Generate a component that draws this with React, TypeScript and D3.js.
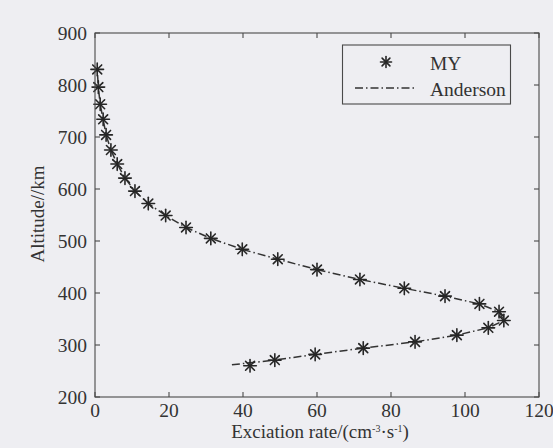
import React from "react";
import * as d3 from "d3";

// Excitation rate profile: MY results (stars) and Anderson profile (dash-dot)
const rateMY = [41.9, 48.6, 59.5, 72.5, 86.5, 97.8, 106.3, 110.5, 109.2, 103.9, 94.6, 83.6, 71.6, 60.0, 49.4, 39.8, 31.3, 24.6, 19.1, 14.4, 10.8, 8.1, 6.0, 4.3, 3.0, 2.2, 1.4, 0.9, 0.6];
const altitudeMY = [260, 271, 282, 294, 306, 319, 333, 347, 364, 379, 394, 409, 426, 445, 465, 484, 505, 526, 549, 572, 596, 621, 648, 675, 704, 734, 763, 796, 830];

const rateAnderson = [37.0, 48.6, 59.5, 72.5, 86.5, 97.8, 106.3, 110.5, 109.2, 103.9, 94.6, 83.6, 71.6, 60.0, 49.4, 39.8, 31.3, 24.6, 19.1, 14.4, 10.8, 8.1, 6.0, 4.3, 3.0, 2.2, 1.4, 0.9, 0.6];
const altitudeAnderson = [262, 271, 282, 294, 306, 319, 333, 347, 364, 379, 394, 409, 426, 445, 465, 484, 505, 526, 549, 572, 596, 621, 648, 675, 704, 734, 763, 796, 830];

const xTicks = [0, 20, 40, 60, 80, 100, 120];
const yTicks = [200, 300, 400, 500, 600, 700, 800, 900];
const seriesNames = ["MY", "Anderson"];

const W = 553;
const H = 448;
const left = 95;
const right = 539;
const top = 33;
const bottom = 397;

const FONT = "'Liberation Serif', 'DejaVu Serif', serif";
const INK = "#333";
const DASH = "8,3,1.5,3";

function Star({ x, y, r = 6.3 }: { x: number; y: number; r?: number }) {
  const d = r * Math.SQRT1_2;
  return (
    <g stroke="#262626" strokeWidth={1.6} strokeLinecap="round">
      <line x1={x - r} y1={y} x2={x + r} y2={y} />
      <line x1={x} y1={y - r} x2={x} y2={y + r} />
      <line x1={x - d} y1={y - d} x2={x + d} y2={y + d} />
      <line x1={x - d} y1={y + d} x2={x + d} y2={y - d} />
    </g>
  );
}

export default function App() {
  const x = d3.scaleLinear().domain([0, 120]).range([left, right]);
  const y = d3.scaleLinear().domain([200, 900]).range([bottom, top]);

  const andersonPts: [number, number][] = rateAnderson.map((r, i) => [r, altitudeAnderson[i]]);
  const line = d3
    .line<[number, number]>()
    .x((d) => x(d[0]))
    .y((d) => y(d[1]));

  const tickLen = 5;

  return (
    <svg
      width={W}
      height={H}
      viewBox={`0 0 ${W} ${H}`}
      style={{ position: "absolute", left: 0, top: 0, display: "block" }}
    >
      <rect x={0} y={0} width={W} height={H} fill="#eeeef2" />

      {/* Anderson profile */}
      <path d={line(andersonPts) ?? ""} fill="none" stroke={INK} strokeWidth={1.5} strokeDasharray={DASH} />

      {/* MY points */}
      {rateMY.map((r, i) => (
        <Star key={i} x={x(r)} y={y(altitudeMY[i])} />
      ))}

      {/* frame */}
      <rect x={left} y={top} width={right - left} height={bottom - top} fill="none" stroke="#4a4a4a" strokeWidth={1.1} />

      {/* ticks, inward on all sides */}
      <g stroke="#4a4a4a" strokeWidth={1.1}>
        {xTicks.map((t) => (
          <g key={`xt${t}`}>
            <line x1={x(t)} x2={x(t)} y1={bottom} y2={bottom - tickLen} />
            <line x1={x(t)} x2={x(t)} y1={top} y2={top + tickLen} />
          </g>
        ))}
        {yTicks.map((t) => (
          <g key={`yt${t}`}>
            <line x1={left} x2={left + tickLen} y1={y(t)} y2={y(t)} />
            <line x1={right} x2={right - tickLen} y1={y(t)} y2={y(t)} />
          </g>
        ))}
      </g>

      {/* tick labels */}
      <g fontFamily={FONT} fontSize={19.5} fill={INK}>
        {xTicks.map((t) => (
          <text key={`xl${t}`} x={x(t)} y={417} textAnchor="middle">
            {t}
          </text>
        ))}
        {yTicks.map((t) => (
          <text key={`yl${t}`} x={87} y={y(t)} textAnchor="end" dominantBaseline="central">
            {t}
          </text>
        ))}
      </g>

      {/* axis titles */}
      <text x={320} y={438} textAnchor="middle" fontFamily={FONT} fontSize={19} fill={INK}>
        Exciation rate/(cm
        <tspan fontSize={10} dy={-6}>-3</tspan>
        <tspan dy={6}>·s</tspan>
        <tspan fontSize={10} dy={-6}>-1</tspan>
        <tspan dy={6}>)</tspan>
      </text>
      <text
        transform={`translate(44, 214) rotate(-90)`}
        textAnchor="middle"
        fontFamily={FONT}
        fontSize={19}
        fill={INK}
      >
        Altitude//km
      </text>

      {/* legend */}
      <rect x={342.5} y={45} width={168} height={59} fill="#eeeef2" stroke="#4a4a4a" strokeWidth={1.1} />
      <Star x={386} y={62} r={5.5} />
      <line x1={355} x2={417} y1={88} y2={88} stroke={INK} strokeWidth={1.5} strokeDasharray={DASH} />
      <g fontFamily={FONT} fontSize={19.5} fill={INK}>
        <text x={430} y={69.5}>{seriesNames[0]}</text>
        <text x={430} y={96}>{seriesNames[1]}</text>
      </g>
    </svg>
  );
}
